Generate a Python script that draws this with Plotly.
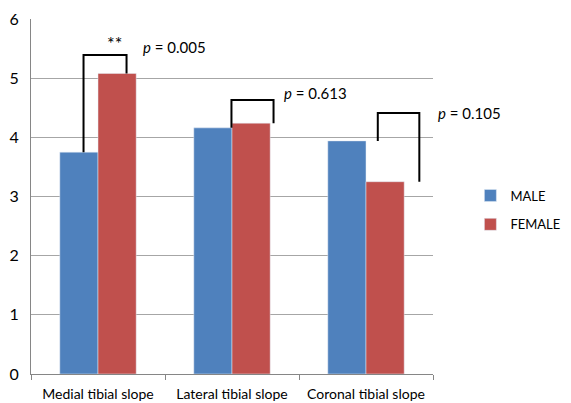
import plotly.graph_objects as go

categories = ["Medial tibial slope", "Lateral tibial slope", "Coronal tibial slope"]
male = [3.75, 4.16, 3.94]
female = [5.08, 4.24, 3.25]
bracket_top = [5.39, 4.63, 4.41]
p_labels = ["<i>p</i> = 0.005", "<i>p</i> = 0.613", "<i>p</i> = 0.105"]
sig_marks = ["**", "", ""]
y_ticks = [0, 1, 2, 3, 4, 5, 6]

BLUE = "#4F81BD"
RED = "#C0504D"
FONT = "Lato, Liberation Sans, Arial"
N = len(categories)

fig = go.Figure()
fig.add_trace(go.Bar(x=categories, y=male, name="MALE", marker_color=BLUE,
                     legendgroup="m"))
fig.add_trace(go.Bar(x=categories, y=female, name="FEMALE", marker_color=RED,
                     legendgroup="f"))

# bracket leg offsets (category units relative to category center)
leg_offsets = [(-0.108, 0.213), (-0.004, 0.31), (0.088, 0.398)]
text_offsets = [0.32, 0.37, 0.52]
text_yshift = [8, 7, 0]
shapes = []
annotations = []
for i in range(N):
    lo, ro = leg_offsets[i]
    path = (f"M {i+lo} {male[i]} L {i+lo} {bracket_top[i]} "
            f"L {i+ro} {bracket_top[i]} L {i+ro} {female[i]}")
    shapes.append(dict(type="path", path=path, xref="x", yref="y",
                       line=dict(color="black", width=2)))
    annotations.append(dict(x=(i + text_offsets[i] + 0.5) / N, y=bracket_top[i],
                            xref="paper", yref="y", text=p_labels[i],
                            yshift=text_yshift[i],
                            showarrow=False, xanchor="left", yanchor="middle",
                            font=dict(family=FONT, size=15, color="black")))
    if sig_marks[i]:
        annotations.append(dict(x=(i + (lo + ro) / 2 + 0.5) / N, y=bracket_top[i],
                                xref="paper", yref="y", text=sig_marks[i],
                                yshift=12,
                                showarrow=False, yanchor="middle",
                                font=dict(family=FONT, size=18, color="black")))

fig.update_layout(
    width=563, height=395,
    margin=dict(l=23, r=138, t=11, b=29, autoexpand=False),
    paper_bgcolor="white", plot_bgcolor="white",
    barmode="group", bargap=0.43, bargroupgap=0,
    font=dict(family=FONT, size=15, color="black"),
    shapes=shapes, annotations=annotations,
    legend=dict(x=1.093, y=0.462, xanchor="left", yanchor="middle",
                traceorder="grouped", tracegroupgap=9,
                font=dict(family=FONT, size=13, color="black"),
                itemwidth=30),
    xaxis=dict(type="category", range=[-0.5, 2.5], tickson="boundaries",
               ticks="outside", tickangle=0, automargin=False,
               ticklen=5, tickcolor="#868686", showline=True,
               linecolor="#868686", linewidth=1, ticklabelstandoff=7,
               tickfont=dict(family=FONT, size=14, color="black")),
    yaxis=dict(range=[0, 6], tickvals=y_ticks, showgrid=True,
               gridcolor="#A6A6A6", gridwidth=1, showline=True,
               linecolor="#868686", linewidth=1, zeroline=False,
               ticks="", ticklabelstandoff=8, automargin=False,
               tickfont=dict(family=FONT, size=16, color="black")),
)

fig.write_html("out.html")
